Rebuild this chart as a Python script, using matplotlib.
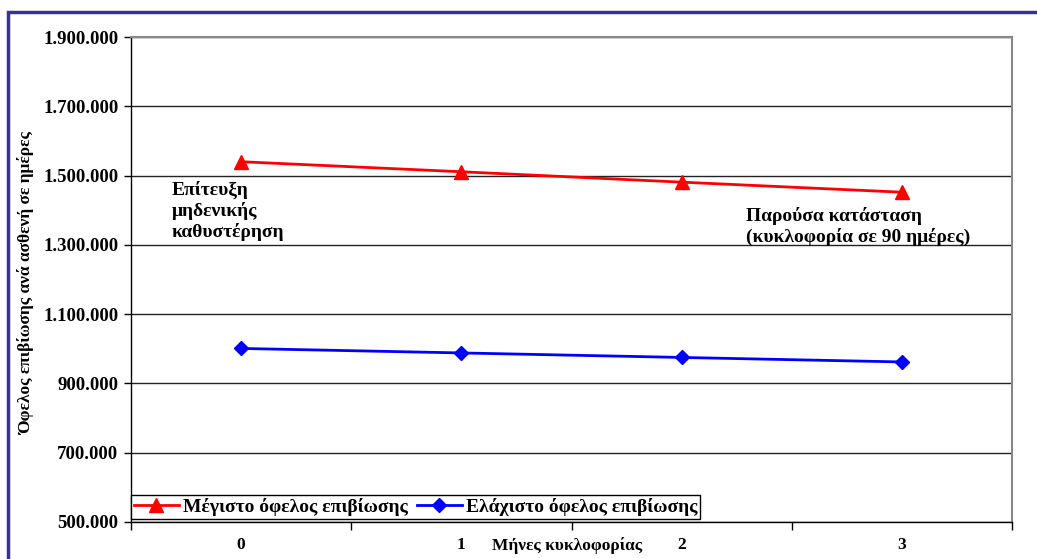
import matplotlib.pyplot as plt
from matplotlib.patches import Rectangle

plt.rcParams['font.family'] = ['Liberation Serif', 'DejaVu Serif']
plt.rcParams['font.weight'] = 'bold'

# Δεδομένα
months = ['0', '1', '2', '3']
max_benefit = [1540000, 1511000, 1481000, 1452000]
min_benefit = [1001000, 988000, 975000, 962000]
y_ticks = [500000, 700000, 900000, 1100000, 1300000, 1500000, 1700000, 1900000]

def greek_fmt(v):
    return f"{v:,.0f}".replace(',', '.')

fig = plt.figure(figsize=(10.37, 5.59), dpi=100, facecolor='white')
ax = fig.add_axes([131 / 1037, 37 / 559, 881 / 1037, 485 / 559])

x = range(len(months))
ax.plot(x, max_benefit, '-^', color='#ff0000', lw=2, markersize=10,
        label='Μέγιστο όφελος επιβίωσης')
ax.plot(x, min_benefit, '-D', color='#0000ff', lw=2, markersize=7,
        label='Ελάχιστο όφελος επιβίωσης')

ax.set_xlim(-0.5, 3.5)
ax.set_ylim(500000, 1900000)
ax.set_yticks(y_ticks, [greek_fmt(v) for v in y_ticks])
ax.yaxis.grid(True, color='#222222', lw=1)
ax.set_axisbelow(True)

# κατηγορίες: ετικέτες στο κέντρο, γραμμές στα όρια
ax.set_xticks(list(x), months)
ax.set_xticks([-0.5, 0.5, 1.5, 2.5, 3.5], minor=True)
ax.tick_params(axis='x', which='major', length=0, pad=11, labelsize=12.5)
ax.tick_params(axis='x', which='minor', length=6, width=1, color='black')
ax.tick_params(axis='y', length=5, width=1, labelsize=13.5, pad=4)

for s in ['top', 'right']:
    ax.spines[s].set_color('#888888')
    ax.spines[s].set_linewidth(1.5)
for s in ['left', 'bottom']:
    ax.spines[s].set_color('black')
    ax.spines[s].set_linewidth(1)

fig.text(567 / 1037, 1 - 546 / 559, 'Μήνες κυκλοφορίας', ha='center', va='center',
         fontsize=12.5, fontweight='bold')
fig.text(27 / 1037, 1 - 284 / 559, 'Όφελος επιβίωσης ανά ασθενή σε ημέρες',
         rotation=90, ha='center', va='center', fontsize=12.5, fontweight='bold')

ax.text(-0.314, 1485000, 'Επίτευξη\nμηδενικής\nκαθυστέρηση',
        ha='left', va='top', fontsize=14, fontweight='bold', linespacing=1.2)
ax.text(2.292, 1410000, 'Παρούσα κατάσταση\n(κυκλοφορία σε 90 ημέρες)',
        ha='left', va='top', fontsize=14, fontweight='bold', linespacing=1.2)

leg = ax.legend(loc='lower left', bbox_to_anchor=(0, 0.006), ncol=2,
                frameon=True, fancybox=False, edgecolor='black', framealpha=1,
                prop={'size': 14, 'weight': 'bold'}, borderpad=0.15,
                handlelength=2.3, handletextpad=0.2, columnspacing=0.5,
                borderaxespad=0)
leg.get_frame().set_linewidth(1)

# εξωτερικό πλαίσιο
fig.patches.append(Rectangle((8 / 1037, -0.1), 1.2, 1 - 12 / 559 + 0.1,
                             transform=fig.transFigure, fill=False,
                             edgecolor='#333399', lw=2.5))

fig.savefig('out.png', dpi=100)
